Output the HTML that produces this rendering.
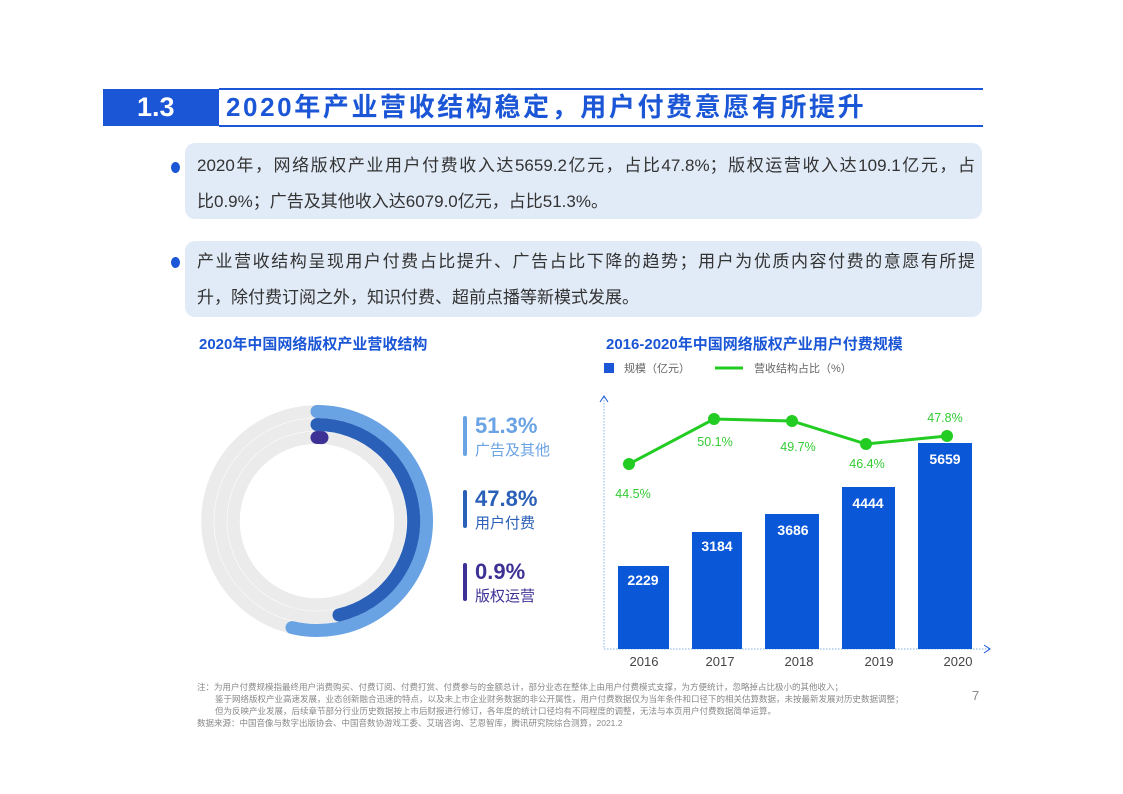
<!DOCTYPE html>
<html><head><meta charset="utf-8"><style>
body{margin:0;width:1123px;height:794px;background:#fff;position:relative;overflow:hidden;font-family:"Liberation Sans","Noto Sans CJK SC",sans-serif}
.a{position:absolute;white-space:nowrap}
.box{position:absolute;left:185px;width:797px;height:76px;background:#e1ebf7;border-radius:10px}
.dot{position:absolute;left:171px;width:9px;height:11px;border-radius:50%;background:#1a56d6}
.t{position:absolute;left:197px;font-size:17px;color:#333;line-height:36px;white-space:nowrap}
.j{width:778px;text-align:justify;text-align-last:justify}
</style></head><body>
<div class="a" style="left:103px;top:89px;width:116px;height:37px;background:#1a56d6"></div>
<div class="a" style="left:137px;top:89px;font-size:27px;font-weight:bold;color:#fff;line-height:37px">1.3</div>
<div class="a" style="left:219px;top:88px;width:764px;height:35px;border-top:2px solid #1a56d6;border-bottom:2px solid #1a56d6"></div>
<div class="a" style="left:226px;top:89px;font-size:26px;font-weight:bold;color:#1a56d6;line-height:37px;letter-spacing:2.6px">2020年产业营收结构稳定，用户付费意愿有所提升</div>

<div class="box" style="top:143px"></div>
<div class="dot" style="top:162px"></div>
<div class="t" style="top:148px"><div class="j">2020年，网络版权产业用户付费收入达5659.2亿元，占比47.8%；版权运营收入达109.1亿元，占</div><div>比0.9%；广告及其他收入达6079.0亿元，占比51.3%。</div></div>
<div class="box" style="top:241px"></div>
<div class="dot" style="top:257px"></div>
<div class="t" style="top:244px"><div class="j">产业营收结构呈现用户付费占比提升、广告占比下降的趋势；用户为优质内容付费的意愿有所提</div><div>升，除付费订阅之外，知识付费、超前点播等新模式发展。</div></div>

<div class="a" style="left:199px;top:333px;font-size:15px;font-weight:bold;color:#1a56d6">2020年中国网络版权产业营收结构</div>
<svg class="a" style="left:0;top:0" width="1123" height="794">
<g fill="none">
<circle cx="317" cy="521" r="109.5" stroke="#ebebeb" stroke-width="12.5"/>
<circle cx="317" cy="521" r="96.5" stroke="#ebebeb" stroke-width="12.5"/>
<circle cx="317" cy="521" r="83.5" stroke="#ebebeb" stroke-width="12.5"/>
<g stroke-width="13" stroke-linecap="round">
<path d="M317 411.5 A109.5 109.5 0 1 1 292 627.6" stroke="#6aa3e4"/>
<path d="M317 424.5 A96.5 96.5 0 0 1 339 615" stroke="#2a60b8"/>
<path d="M317 437.5 A83.5 83.5 0 0 1 322 437.6" stroke="#3e3196"/>
</g>
</g>
<rect x="463" y="416" width="4" height="40" rx="2" fill="#6aa3e4"/>
<rect x="463" y="490" width="4" height="38" rx="2" fill="#2a60b8"/>
<rect x="463" y="563" width="4" height="38" rx="2" fill="#3e3196"/>
<g font-family="Liberation Sans,Noto Sans CJK SC,sans-serif">
<text x="475" y="433" font-size="22" font-weight="bold" fill="#6aa3e4">51.3%</text>
<text x="475" y="455" font-size="15" fill="#6aa3e4">广告及其他</text>
<text x="475" y="506" font-size="22" font-weight="bold" fill="#2a60b8">47.8%</text>
<text x="475" y="528" font-size="15" fill="#2a60b8">用户付费</text>
<text x="475" y="579" font-size="22" font-weight="bold" fill="#3e3196">0.9%</text>
<text x="475" y="601" font-size="15" fill="#3e3196">版权运营</text>

<text x="606" y="349" font-size="15" font-weight="bold" fill="#1a56d6">2016-2020年中国网络版权产业用户付费规模</text>
<rect x="604" y="363" width="10" height="10" fill="#1a56d6"/>
<text x="624" y="372" font-size="11" fill="#666">规模（亿元）</text>
<line x1="715" y1="368" x2="743" y2="368" stroke="#22cc22" stroke-width="3"/>
<text x="754" y="372" font-size="11" fill="#666">营收结构占比（%）</text>
<line x1="604" y1="397" x2="604" y2="649" stroke="#7fb0e8" stroke-dasharray="1.5 1.5"/>
<line x1="604" y1="649" x2="990" y2="649" stroke="#7fb0e8" stroke-dasharray="1.5 1.5"/>
<path d="M600 402 L604 396 L608 402 M984 645 L990 649 L984 653" stroke="#1a56d6" fill="none"/>
<g fill="#0a57d8">
<rect x="618" y="566" width="51" height="83"/>
<rect x="692" y="532" width="50" height="117"/>
<rect x="765" y="514" width="54" height="135"/>
<rect x="842" y="487" width="53" height="162"/>
<rect x="918" y="443" width="54" height="206"/>
</g>
<g fill="#fff" font-size="14" font-weight="bold" text-anchor="middle">
<text x="643" y="585">2229</text><text x="717" y="551">3184</text><text x="793" y="535">3686</text><text x="868" y="508">4444</text><text x="945" y="464">5659</text>
</g>
<polyline points="629,464 714,419 792,421 866,444 947,436" fill="none" stroke="#22cc22" stroke-width="3"/>
<g fill="#22cc22"><circle cx="629" cy="464" r="6"/><circle cx="714" cy="419" r="6"/><circle cx="792" cy="421" r="6"/><circle cx="866" cy="444" r="6"/><circle cx="947" cy="436" r="6"/></g>
<g fill="#33cc33" font-size="12.5" text-anchor="middle">
<text x="633" y="498">44.5%</text><text x="715" y="446">50.1%</text><text x="798" y="451">49.7%</text><text x="867" y="468">46.4%</text><text x="945" y="422">47.8%</text>
</g>
<g fill="#444" font-size="13" text-anchor="middle">
<text x="644" y="666">2016</text><text x="720" y="666">2017</text><text x="799" y="666">2018</text><text x="879" y="666">2019</text><text x="958" y="666">2020</text>
</g>
<g fill="#888" font-size="8.5">
<text x="197" y="690">注：为用户付费规模指最终用户消费购买、付费订阅、付费打赏、付费参与的金额总计，部分业态在整体上由用户付费模式支撑，为方便统计，忽略掉占比极小的其他收入；</text>
<text x="215" y="702">鉴于网络版权产业高速发展，业态创新融合迅速的特点，以及未上市企业财务数据的非公开属性，用户付费数据仅为当年条件和口径下的相关估算数据，未按最新发展对历史数据调整；</text>
<text x="215" y="714">但为反映产业发展，后续章节部分行业历史数据按上市后财报进行修订，各年度的统计口径均有不同程度的调整，无法与本页用户付费数据简单运算。</text>
<text x="197" y="726">数据来源：中国音像与数字出版协会、中国音数协游戏工委、艾瑞咨询、艺恩智库，腾讯研究院综合测算，2021.2</text>
</g>
<text x="972" y="700" font-size="13" fill="#888">7</text>
</g>
</svg>
</body></html>
